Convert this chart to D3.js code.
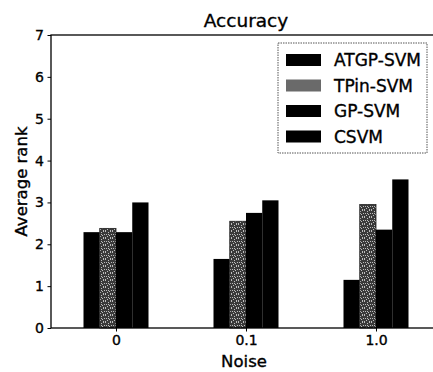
<!DOCTYPE html>
<html>
<head>
<meta charset="utf-8">
<script src="https://cdn.jsdelivr.net/npm/d3@7"></script>
<style>
  body { margin: 0; background: #fff; }
  text { font-family: "DejaVu Sans", sans-serif; fill: #000; stroke: #000; stroke-width: 0.35px; }
</style>
</head>
<body>
<div id="chart"></div>
<script>
const noiseLevels = ["0", "0.1", "1.0"];
const methods = ["ATGP-SVM", "TPin-SVM", "GP-SVM", "CSVM"];
const atgpSvm = [2.29, 1.65, 1.15];
const tpinSvm = [2.38, 2.55, 2.95];
const gpSvm = [2.29, 2.75, 2.35];
const csvm = [3.0, 3.05, 3.55];
const yTicks = [0, 1, 2, 3, 4, 5, 6, 7];

const seriesValues = [atgpSvm, tpinSvm, gpSvm, csvm];

const W = 433, H = 372;
const margin = { top: 35, right: -8, bottom: 44, left: 51 };
const barWidth = 0.125;

const svg = d3.select('#chart')
  .append('svg')
  .attr('width', W)
  .attr('height', H);

// speckled grey fill for TPin-SVM (scanned halftone look)
const defs = svg.append('defs');
const pat = defs.append('pattern')
  .attr('id', 'speckle')
  .attr('patternUnits', 'userSpaceOnUse')
  .attr('width', 7)
  .attr('height', 7);
pat.append('rect').attr('width', 7).attr('height', 7).attr('fill', '#3a3a3a');
const specks = [[0, 0], [3, 1], [5, 0], [1, 3], [4, 4], [6, 3], [2, 5], [5, 6], [0, 6], [3, 3]];
specks.forEach(p => {
  pat.append('rect')
    .attr('x', p[0]).attr('y', p[1])
    .attr('width', 1).attr('height', 1)
    .attr('fill', '#bdbdbd');
});

const fills = ['#000', 'url(#speckle)', '#000', '#000'];

const x = d3.scaleLinear()
  .domain([-0.5, 2.5])
  .range([margin.left, W - margin.right]);

const y = d3.scaleLinear()
  .domain([0, 7])
  .range([H - margin.bottom, margin.top]);

const bars = [];
seriesValues.forEach((vals, s) => {
  vals.forEach((v, i) => {
    bars.push({ s, i, v, xc: i + (s - 1.5) * barWidth });
  });
});

svg.append('g')
  .selectAll('rect')
  .data(bars)
  .join('rect')
  .attr('x', d => x(d.xc - barWidth / 2))
  .attr('width', d => x(d.xc + barWidth / 2) - x(d.xc - barWidth / 2))
  .attr('y', d => y(d.v))
  .attr('height', d => y(0) - y(d.v))
  .attr('fill', d => fills[d.s])
  .attr('stroke', d => d.s === 1 ? '#222' : 'none')
  .attr('stroke-width', 0.8);

// axes
const xAxis = d3.axisBottom(x)
  .tickValues([0, 1, 2])
  .tickFormat((d, i) => noiseLevels[i])
  .tickSize(3.5)
  .tickPadding(3.5);

const yAxis = d3.axisLeft(y)
  .tickValues(yTicks)
  .tickFormat(d3.format('d'))
  .tickSize(3.5)
  .tickPadding(3.5);

const gx = svg.append('g')
  .attr('transform', `translate(0,${y(0)})`)
  .call(xAxis);

const gy = svg.append('g')
  .attr('transform', `translate(${margin.left},0)`)
  .call(yAxis);

[gx, gy].forEach(g => {
  g.selectAll('text')
    .style('font-size', '14px')
    .style('font-family', '"DejaVu Sans", sans-serif');
  g.selectAll('line').attr('stroke', '#000').attr('stroke-width', 1);
  g.select('.domain').remove();
});

// spines
svg.append('rect')
  .attr('x', margin.left)
  .attr('y', margin.top)
  .attr('width', W - margin.right - margin.left)
  .attr('height', y(0) - margin.top)
  .attr('fill', 'none')
  .attr('stroke', '#000')
  .attr('stroke-width', 1.3);

// title and labels
svg.append('text')
  .attr('x', (margin.left + W - margin.right) / 2)
  .attr('y', 27)
  .attr('text-anchor', 'middle')
  .style('font-size', '18.5px')
  .text('Accuracy');

svg.append('text')
  .attr('x', (margin.left + W - margin.right) / 2 - 2)
  .attr('y', 367)
  .attr('text-anchor', 'middle')
  .style('font-size', '16.5px')
  .text('Noise');

svg.append('text')
  .attr('transform', `translate(27,${(margin.top + y(0)) / 2}) rotate(-90)`)
  .attr('text-anchor', 'middle')
  .style('font-size', '16.5px')
  .text('Average rank');

// legend
const legend = svg.append('g').attr('transform', 'translate(278,43)');
legend.append('rect')
  .attr('width', 149)
  .attr('height', 110)
  .attr('fill', '#fff')
  .attr('stroke', '#555')
  .attr('stroke-width', 1)
  .attr('stroke-dasharray', '1.5,1');

methods.forEach((m, i) => {
  const row = legend.append('g').attr('transform', `translate(0,${17 + i * 25.5})`);
  row.append('rect')
    .attr('x', 8)
    .attr('y', -6)
    .attr('width', 35)
    .attr('height', 12)
    .attr('fill', i === 1 ? '#6a6a6a' : fills[i]);
  row.append('text')
    .attr('x', 56)
    .attr('y', 6)
    .style('font-size', '17px')
    .text(m);
});
</script>
</body>
</html>
